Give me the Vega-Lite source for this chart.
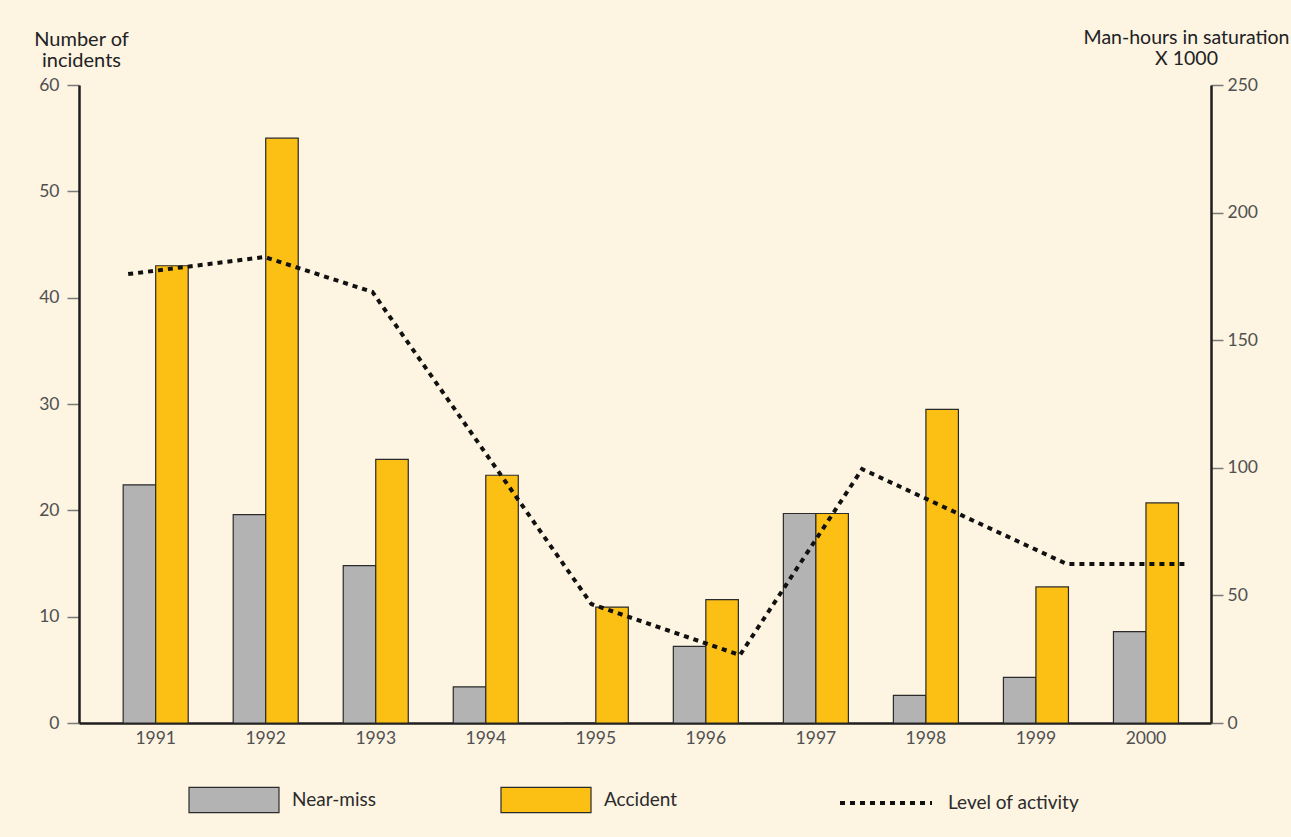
{
  "$schema": "https://vega.github.io/schema/vega-lite/v6.json",
  "width": 1132,
  "height": 638,
  "autosize": {"type": "none"},
  "padding": {"left": 79, "top": 85, "right": 80, "bottom": 114},
  "background": "#fdf4e2",
  "config": {
    "font": "Lato",
    "view": {"stroke": null},
    "axis": {"grid": false, "labelFont": "Lato", "titleFont": "Lato"},
    "legend": {"labelFont": "Lato", "padding": 0}
  },
  "datasets": {
    "incidents": [
      {"year": "1991", "type": "Near-miss", "count": 22.4},
      {"year": "1991", "type": "Accident", "count": 43.0},
      {"year": "1992", "type": "Near-miss", "count": 19.6},
      {"year": "1992", "type": "Accident", "count": 55.0},
      {"year": "1993", "type": "Near-miss", "count": 14.8},
      {"year": "1993", "type": "Accident", "count": 24.8},
      {"year": "1994", "type": "Near-miss", "count": 3.4},
      {"year": "1994", "type": "Accident", "count": 23.3},
      {"year": "1995", "type": "Near-miss", "count": 0},
      {"year": "1995", "type": "Accident", "count": 10.9},
      {"year": "1996", "type": "Near-miss", "count": 7.2},
      {"year": "1996", "type": "Accident", "count": 11.6},
      {"year": "1997", "type": "Near-miss", "count": 19.7},
      {"year": "1997", "type": "Accident", "count": 19.7},
      {"year": "1998", "type": "Near-miss", "count": 2.6},
      {"year": "1998", "type": "Accident", "count": 29.5},
      {"year": "1999", "type": "Near-miss", "count": 4.3},
      {"year": "1999", "type": "Accident", "count": 12.8},
      {"year": "2000", "type": "Near-miss", "count": 8.6},
      {"year": "2000", "type": "Accident", "count": 20.7}
    ],
    "activity": [
      {"year": 1990.75, "manhours": 175.9},
      {"year": 1991.99, "manhours": 182.6},
      {"year": 1992.97, "manhours": 168.9},
      {"year": 1994.96, "manhours": 46.6},
      {"year": 1996.31, "manhours": 26.6},
      {"year": 1997.42, "manhours": 99.5},
      {"year": 1999.28, "manhours": 62.3},
      {"year": 2000.36, "manhours": 62.3}
    ]
  },
  "layer": [
    {
      "data": {"name": "incidents"},
      "mark": {"type": "bar", "stroke": "#2b2b2b", "strokeWidth": 1.2},
      "encoding": {
        "x": {
          "field": "year",
          "type": "ordinal",
          "scale": {"paddingInner": 0.409, "paddingOuter": 0.3485, "align": 0.576, "round": false},
          "axis": {
            "title": null,
            "ticks": false,
            "tickSize": 0,
            "labelPadding": 6,
            "labelAngle": 0,
            "labelFontSize": 17.5,
            "labelColor": "#505050",
            "domainColor": "#1e1e1e",
            "domainWidth": 2.5
          }
        },
        "xOffset": {
          "field": "type",
          "type": "nominal",
          "scale": {"domain": ["Near-miss", "Accident"], "paddingInner": 0, "paddingOuter": 0}
        },
        "y": {
          "field": "count",
          "type": "quantitative",
          "scale": {"domain": [0, 60], "nice": false},
          "axis": {
            "values": [0, 10, 20, 30, 40, 50, 60],
            "tickSize": 12,
            "tickColor": "#7a7a7a",
            "tickWidth": 1.5,
            "labelPadding": 8,
            "labelFontSize": 17.5,
            "labelColor": "#505050",
            "domainColor": "#1e1e1e",
            "domainWidth": 2.5,
            "title": ["Number of", "incidents"],
            "titleAngle": 0,
            "titleAlign": "center",
            "titleBaseline": "alphabetic",
            "titleX": 2,
            "titleY": -40,
            "titleFontSize": 20,
            "titleFontWeight": "normal",
            "titleColor": "#222222",
            "titleLineHeight": 21.5
          }
        },
        "fill": {
          "field": "type",
          "type": "nominal",
          "scale": {"domain": ["Near-miss", "Accident"], "range": ["#b3b3b3", "#fcbf14"]},
          "legend": {
            "title": null,
            "orient": "none",
            "direction": "horizontal",
            "columns": 2,
            "legendX": 109,
            "legendY": 669,
            "symbolType": "M-1,-0.28H1V0.28H-1Z",
            "symbolSize": 8100,
            "symbolStrokeColor": "#2b2b2b",
            "symbolStrokeWidth": 1.2,
            "symbolOpacity": 1,
            "labelOffset": 12,
            "labelFontSize": 19,
            "labelColor": "#2b2b2b",
            "columnPadding": 122
          }
        }
      }
    },
    {
      "data": {"name": "activity"},
      "mark": {"type": "line", "strokeWidth": 4, "strokeDash": [5, 5]},
      "encoding": {
        "x": {
          "field": "year",
          "type": "quantitative",
          "scale": {"domain": [1990.303, 2000.591], "nice": false, "zero": false},
          "axis": null
        },
        "y": {
          "field": "manhours",
          "type": "quantitative",
          "scale": {"domain": [0, 250], "nice": false},
          "axis": {
            "orient": "right",
            "values": [0, 50, 100, 150, 200, 250],
            "tickSize": 12,
            "tickColor": "#7a7a7a",
            "tickWidth": 1.5,
            "labelPadding": 4,
            "labelFontSize": 17.5,
            "labelColor": "#505050",
            "domainColor": "#1e1e1e",
            "domainWidth": 2.5,
            "title": ["Man-hours in saturation", "X 1000"],
            "titleAngle": 0,
            "titleAlign": "center",
            "titleBaseline": "alphabetic",
            "titleX": -25,
            "titleY": -42,
            "titleFontSize": 19.5,
            "titleFontWeight": "normal",
            "titleColor": "#222222",
            "titleLineHeight": 21
          }
        },
        "stroke": {
          "datum": "Level of activity",
          "type": "nominal",
          "scale": {"range": ["#111111"]},
          "legend": {
            "title": null,
            "orient": "none",
            "legendX": 759,
            "legendY": 670,
            "symbolType": "stroke",
            "symbolSize": 8464,
            "symbolStrokeWidth": 4,
            "symbolDash": [5, 5],
            "labelOffset": 14,
            "labelFontSize": 19,
            "labelColor": "#2b2b2b"
          }
        }
      }
    }
  ],
  "resolve": {"scale": {"x": "independent", "y": "independent", "xOffset": "independent"}}
}
